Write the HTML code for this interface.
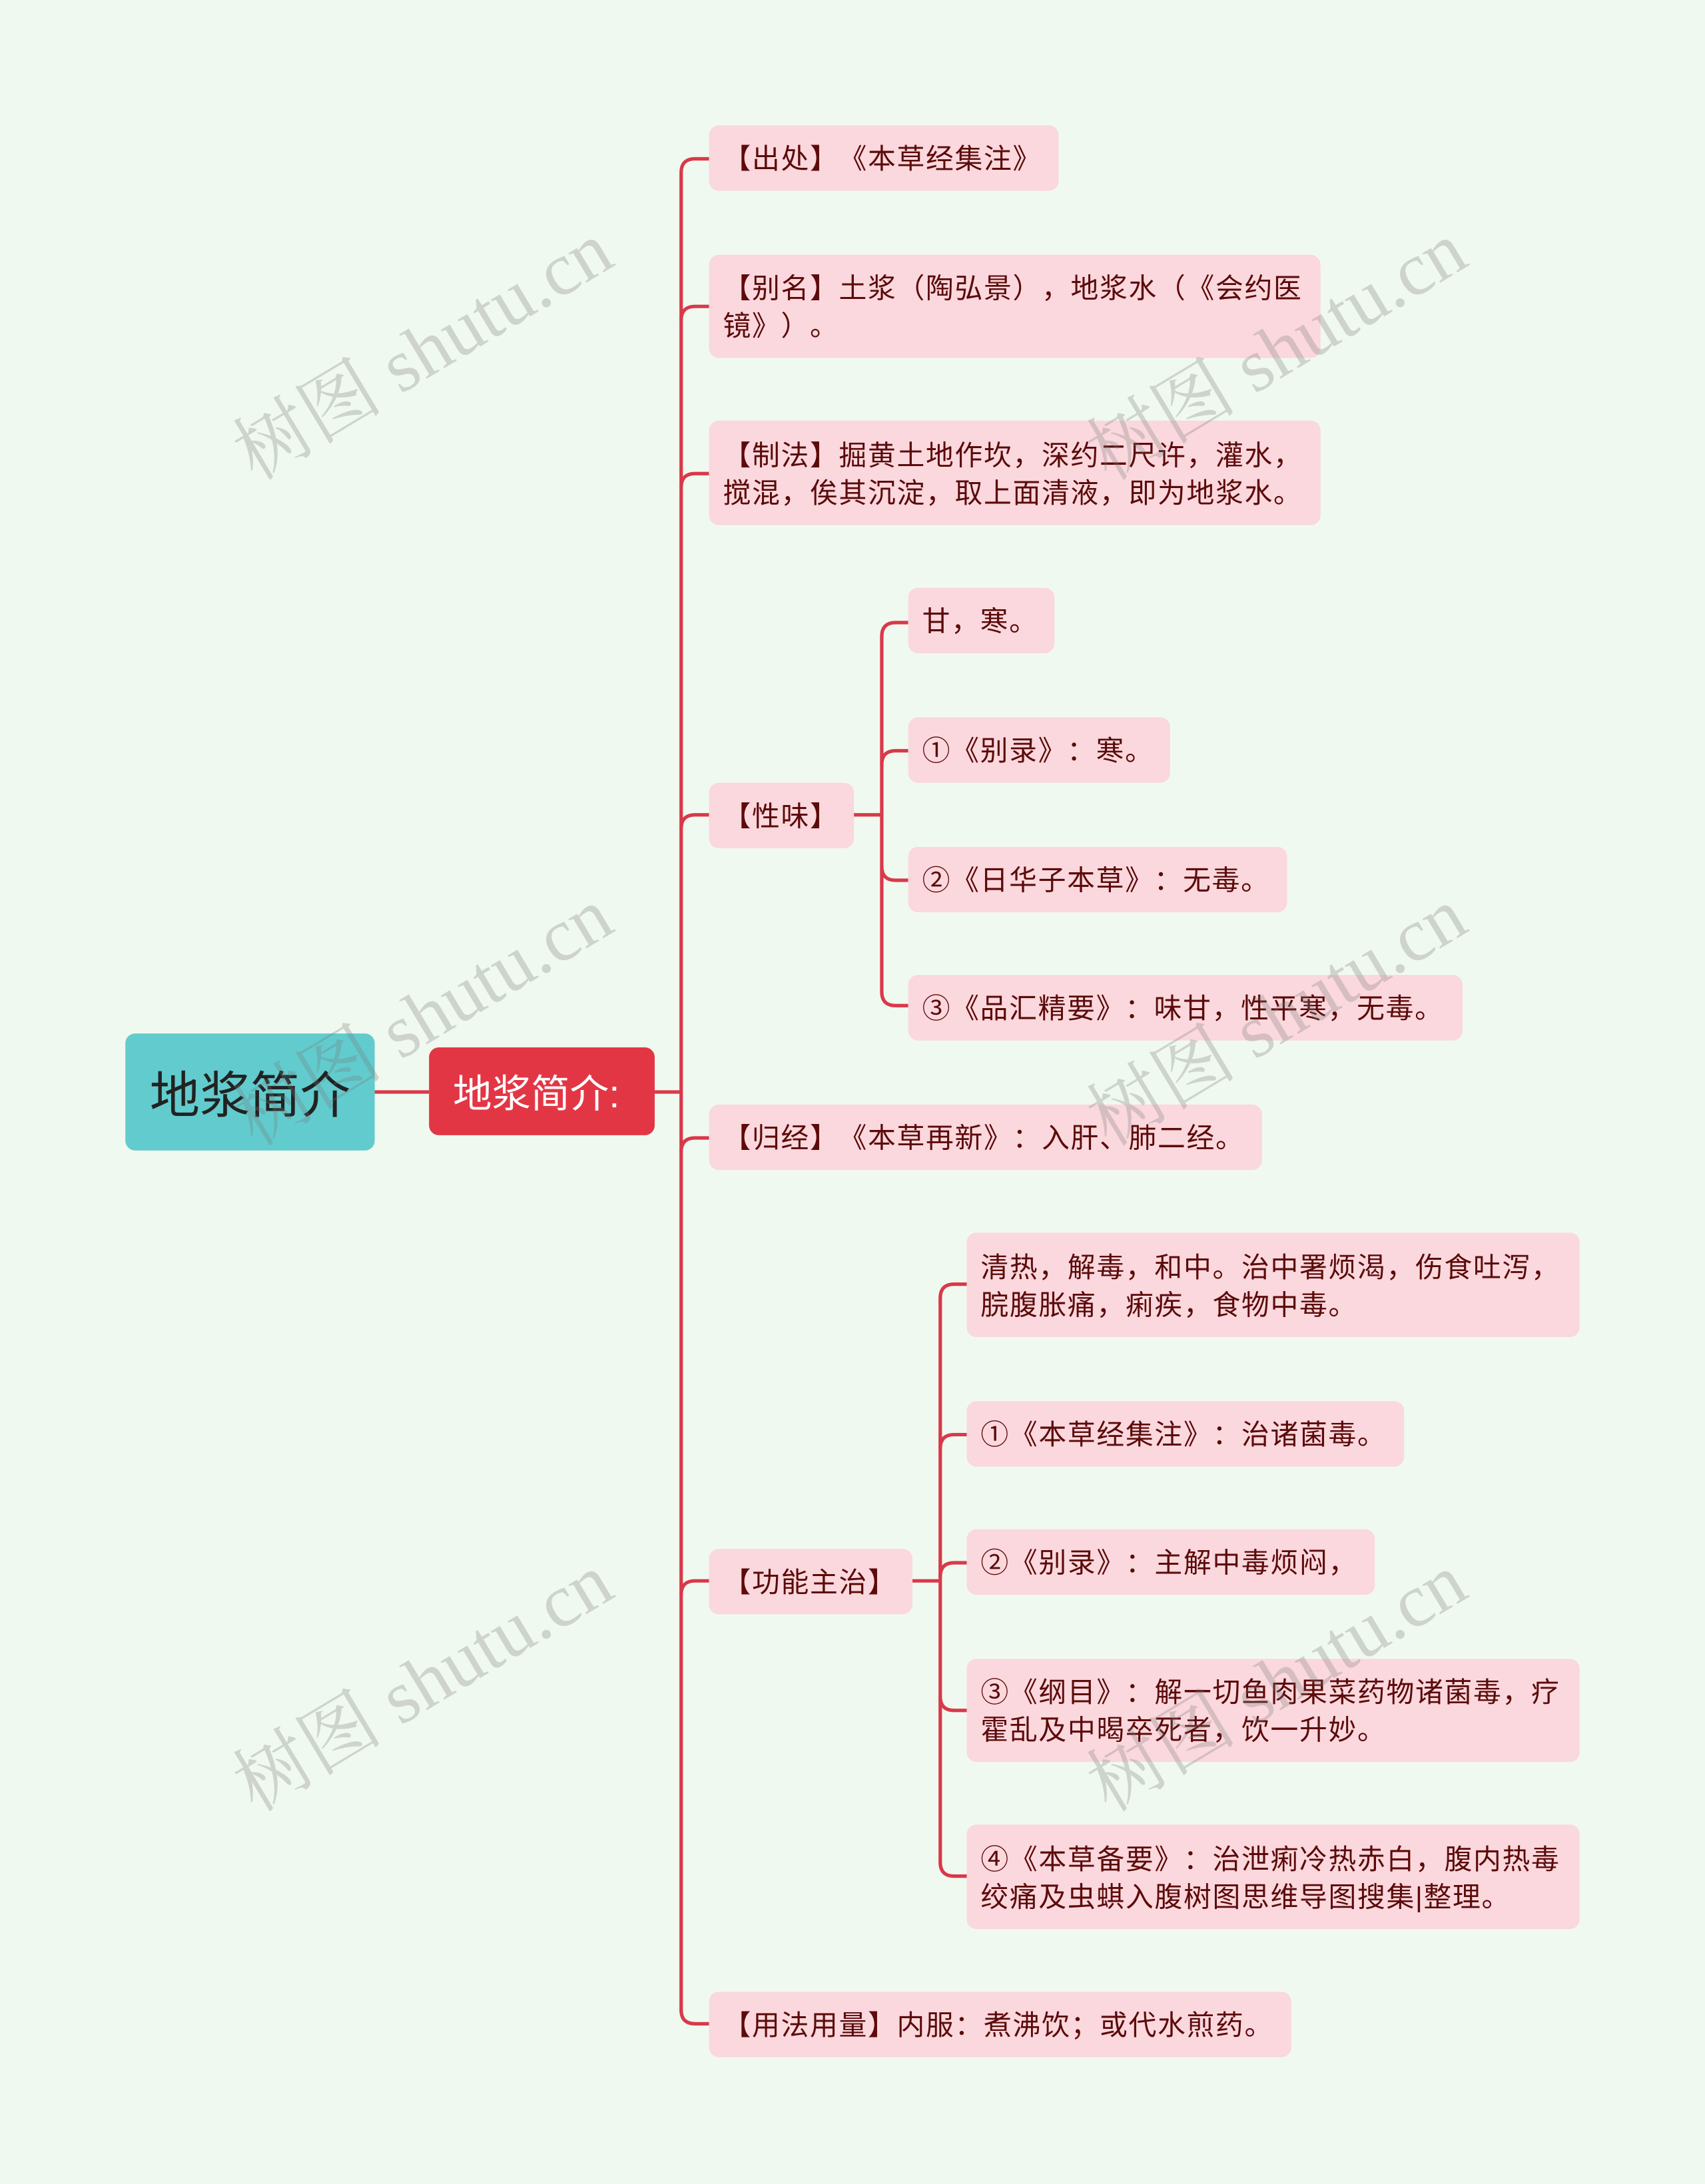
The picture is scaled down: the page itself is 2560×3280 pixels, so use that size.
<!DOCTYPE html>
<html><head><meta charset="utf-8"><style>
html,body{margin:0;padding:0;background:#f0f9ef;}
#wrap{position:absolute;left:0;top:0;width:1224px;height:1568px;transform:scale(2.0915,2.0918);transform-origin:0 0;overflow:hidden;background:#f0f9ef;font-family:"Liberation Sans","Noto Sans CJK SC",sans-serif;text-spacing-trim:space-all;}
.n{position:absolute;background:#fad8dd;border-radius:7px;color:#5c0a0a;font-size:20px;line-height:27px;box-sizing:border-box;padding:4px 10px 0;display:flex;align-items:center;white-space:nowrap;text-spacing-trim:space-all;letter-spacing:0.8px;}
.wm{position:absolute;font-family:"Liberation Serif","Noto Serif CJK SC",serif;font-size:54px;color:rgba(120,120,120,0.28);transform:rotate(-31deg);white-space:nowrap;transform-origin:center;}
</style></head><body><div id="wrap">
<svg width="1224" height="1568" style="position:absolute;left:0;top:0" fill="none" stroke="#d9394a" stroke-width="2.5">
<path d="M269,784 H308"/>
<path d="M470,784 H489"/>
<path d="M509,114 H499 Q489,114 489,124 V1443 Q489,1453 499,1453 H509"/>
<path d="M489,230 Q489,220 499,220 H509"/>
<path d="M489,350 Q489,340 499,340 H509"/>
<path d="M489,595 Q489,585 499,585 H509"/>
<path d="M489,827 Q489,817 499,817 H509"/>
<path d="M489,1145 Q489,1135 499,1135 H509"/>
<path d="M613,585 H633"/>
<path d="M652,447 H643 Q633,447 633,457 V712 Q633,722 643,722 H652"/>
<path d="M633,549 Q633,539 643,539 H652"/>
<path d="M633,622 Q633,632 643,632 H652"/>
<path d="M655,1135 H675"/>
<path d="M694,922 H685 Q675,922 675,932 V1337 Q675,1347 685,1347 H694"/>
<path d="M675,1040 Q675,1030 685,1030 H694"/>
<path d="M675,1132 Q675,1122 685,1122 H694"/>
<path d="M675,1218 Q675,1228 685,1228 H694"/>
</svg>
<div style="position:absolute;left:90px;top:742px;width:179px;height:84px;background:#62cbcd;border-radius:7px;color:#222;font-size:36px;display:flex;align-items:center;justify-content:center;">地浆简介</div>
<div style="position:absolute;left:308px;top:752px;width:162px;height:63px;background:#e33645;border-radius:7px;color:#fff;font-size:28px;display:flex;align-items:center;justify-content:center;padding-right:8px;box-sizing:border-box;">地浆简介:</div>
<div class="n" style="left:509px;top:90px;width:251px;height:47px;">【出处】《本草经集注》</div>
<div class="n" style="left:509px;top:183px;width:439px;height:74px;">【别名】土浆（陶弘景），地浆水（《会约医<br>镜》）。</div>
<div class="n" style="left:509px;top:302px;width:439px;height:75px;">【制法】掘黄土地作坎，深约二尺许，灌水，<br>搅混，俟其沉淀，取上面清液，即为地浆水。</div>
<div class="n" style="left:509px;top:562px;width:104px;height:47px;">【性味】</div>
<div class="n" style="left:652px;top:422px;width:105px;height:47px;">甘，寒。</div>
<div class="n" style="left:652px;top:515px;width:188px;height:47px;">①《别录》：寒。</div>
<div class="n" style="left:652px;top:608px;width:272px;height:47px;">②《日华子本草》：无毒。</div>
<div class="n" style="left:652px;top:700px;width:398px;height:47px;">③《品汇精要》：味甘，性平寒，无毒。</div>
<div class="n" style="left:509px;top:793px;width:397px;height:47px;">【归经】《本草再新》：入肝、肺二经。</div>
<div class="n" style="left:509px;top:1112px;width:146px;height:47px;">【功能主治】</div>
<div class="n" style="left:694px;top:885px;width:440px;height:75px;">清热，解毒，和中。治中署烦渴，伤食吐泻，<br>脘腹胀痛，痢疾，食物中毒。</div>
<div class="n" style="left:694px;top:1006px;width:314px;height:47px;">①《本草经集注》：治诸菌毒。</div>
<div class="n" style="left:694px;top:1098px;width:293px;height:47px;">②《别录》：主解中毒烦闷，</div>
<div class="n" style="left:694px;top:1191px;width:440px;height:74px;">③《纲目》：解一切鱼肉果菜药物诸菌毒，疗<br>霍乱及中暍卒死者，饮一升妙。</div>
<div class="n" style="left:694px;top:1310px;width:440px;height:75px;">④《本草备要》：治泄痢冷热赤白，腹内热毒<br>绞痛及虫蜞入腹树图思维导图搜集|整理。</div>
<div class="n" style="left:509px;top:1430px;width:418px;height:47px;">【用法用量】内服：煮沸饮；或代水煎药。</div>
<div class="wm" style="left:150px;top:210px;">树图 shutu.cn</div>
<div class="wm" style="left:763px;top:210px;">树图 shutu.cn</div>
<div class="wm" style="left:150px;top:688px;">树图 shutu.cn</div>
<div class="wm" style="left:763px;top:688px;">树图 shutu.cn</div>
<div class="wm" style="left:150px;top:1166px;">树图 shutu.cn</div>
<div class="wm" style="left:763px;top:1166px;">树图 shutu.cn</div>
</div></body></html>
